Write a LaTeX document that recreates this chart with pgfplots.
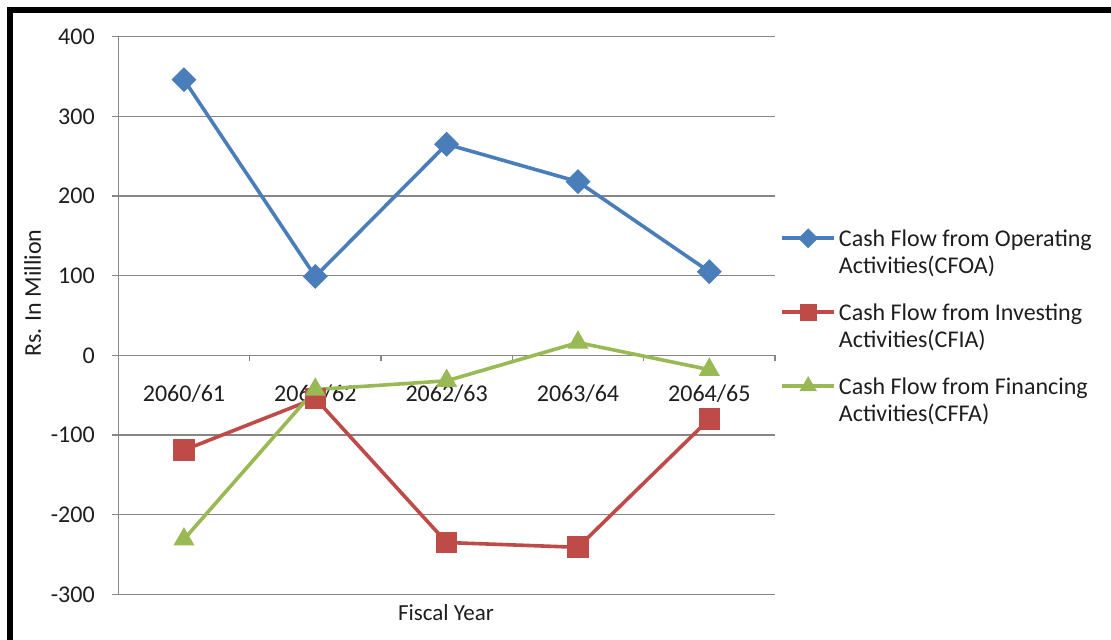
\documentclass[border=0pt]{standalone}
\usepackage{pgfplots}
\usepackage{pgfplotstable}
\pgfplotsset{compat=1.18}
\usepackage{fontspec}
\setmainfont{Carlito}

\definecolor{cfoa}{RGB}{74,126,187}
\definecolor{cfia}{RGB}{190,75,72}
\definecolor{cffa}{RGB}{152,185,84}
\definecolor{gridgray}{RGB}{134,134,134}
\definecolor{txt}{RGB}{30,30,30}

% Cash flows, Rs. in million, by fiscal year
\pgfplotstableread{
x cfoa cfia cffa
0 346 -119 -231
1  99  -54  -43
2 265 -235  -32
3 218 -241   16
4 105  -80  -18
}\cashflow

\newcommand{\entry}[2]{\begin{tabular}[t]{@{}l@{}}#1\\#2\end{tabular}}

\begin{document}
\begin{tikzpicture}
\begin{axis}[
  at={(59.15pt,22.85pt)}, anchor=south west,
  scale only axis, width=328.35pt, height=278.8pt,
  xmin=-0.5, xmax=4.5, ymin=-300, ymax=400,
  axis x line=middle, axis y line=left,
  axis line style={-, draw=gridgray, line width=0.75pt},
  hide obscured x ticks=false, hide obscured y ticks=false,
  tick align=outside, major tick length=3pt,
  tick style={draw=gridgray, line width=0.75pt},
  xtick={-0.5,0.5,...,4.5}, xticklabels={},
  extra x ticks={0,1,2,3,4},
  extra x tick labels={2060/61,2061/62,2062/63,2063/64,2064/65},
  extra x tick style={major tick length=0pt, grid=none,
    xticklabel style={anchor=base, yshift=-23pt}},
  ytick={-300,-200,...,400},
  /pgf/number format/assume math mode=true,
  ymajorgrids,
  grid style={draw=gridgray, line width=0.75pt},
  tick label style={font=\fontsize{12}{14}\selectfont, text=txt},
  yticklabel style={anchor=east, inner sep=0pt, xshift=-8.6pt},
  xlabel={Fiscal Year},
  xlabel style={at={(axis description cs:0.499,-0.0335)}, anchor=center,
    font=\fontsize{11.5}{14}\selectfont, text=txt},
  ylabel={Rs. In Million},
  ylabel style={at={(axis description cs:-0.1306,0.540)}, anchor=center,
    rotate=0, font=\fontsize{12}{14}\selectfont, text=txt},
  legend style={at={(axis description cs:1.0076,0.6587)}, anchor=north west,
    draw=none, fill=none, inner sep=0pt, row sep=26pt, column sep=1.5pt,
    nodes={inner sep=0pt, font=\fontsize{12}{13.5}\selectfont, text=txt},
    cells={anchor=base west}},
  legend image code/.code={%
    \draw[mark repeat=2, mark phase=2, #1, every mark/.append style={scale=0.75}]
      plot coordinates {(0pt,4pt) (13pt,4pt) (26pt,4pt)};},
  clip=false,
]
\addplot[cfoa, line width=1.8pt, mark=square*, mark size=3.5pt,
  mark options={rotate=45, solid}] table[x=x, y=cfoa] {\cashflow};
\addlegendentry{\entry{Cash Flow from Operating}{Activities(CFOA)}}
\addplot[cfia, line width=1.8pt, mark=square*, mark size=4.5pt,
  mark options={solid}] table[x=x, y=cfia] {\cashflow};
\addlegendentry{\entry{Cash Flow from Investing}{Activities(CFIA)}}
\addplot[cffa, line width=1.8pt, mark=triangle*, mark size=4.3pt,
  mark options={solid}] table[x=x, y=cffa] {\cashflow};
\addlegendentry{\entry{Cash Flow from Financing}{Activities(CFFA)}}
\end{axis}
% chart frame (left and top edges)
\draw[line width=3pt, black] (5pt,0pt) -- (5pt,315pt) -- (555.5pt,315pt);
\pgfresetboundingbox
\useasboundingbox (0pt,0pt) rectangle (555.5pt,320pt);
\end{tikzpicture}
\end{document}
